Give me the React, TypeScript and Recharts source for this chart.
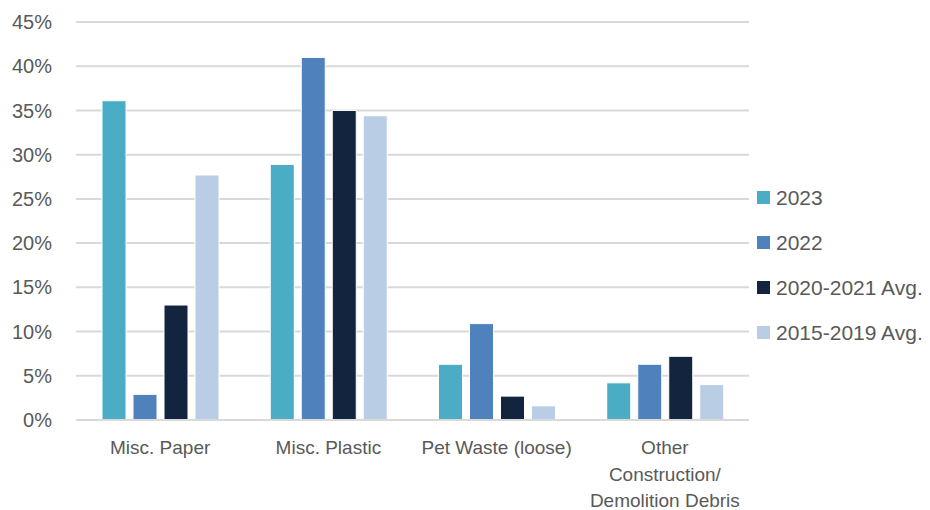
import { Bar, BarChart, CartesianGrid, Legend, XAxis, YAxis } from "recharts";

const categories = ["Misc. Paper", "Misc. Plastic", "Pet Waste (loose)", "Other Construction/ Demolition Debris"];
const categoryLines = [["Misc. Paper"], ["Misc. Plastic"], ["Pet Waste (loose)"], ["Other", "Construction/", "Demolition Debris"]];

const seriesNames = ["2023", "2022", "2020-2021 Avg.", "2015-2019 Avg."];
const y2023 = [36.1, 28.9, 6.3, 4.2];
const y2022 = [2.9, 41.0, 10.9, 6.3];
const avg2020_2021 = [13.0, 35.0, 2.7, 7.2];
const avg2015_2019 = [27.7, 34.4, 1.6, 4.0];

const yTicks = [0, 5, 10, 15, 20, 25, 30, 35, 40, 45];

const chartData = categories.map((name, i) => ({
  name,
  y2023: y2023[i],
  y2022: y2022[i],
  avg2020: avg2020_2021[i],
  avg2015: avg2015_2019[i],
}));

const textColor = "#595959";
const gridColor = "#d9d9d9";

const CategoryTick = (props: any) => {
  const { x, y, payload } = props;
  const idx = categories.indexOf(payload.value);
  const lines = idx >= 0 ? categoryLines[idx] : [String(payload.value)];
  return (
    <text x={x} y={y} textAnchor="middle" fill={textColor} fontSize={19}>
      {lines.map((line, i) => (
        <tspan key={i} x={x} dy={i === 0 ? 34 : 26.5}>
          {line}
        </tspan>
      ))}
    </text>
  );
};

// keep legend in series order (recharts sorts by value otherwise)
const renderLegend = (props: any) => {
  const items = [...(props.payload || [])].sort(
    (a: any, b: any) => seriesNames.indexOf(a.value) - seriesNames.indexOf(b.value)
  );
  return (
    <div>
      {items.map((entry: any) => (
        <div
          key={entry.value}
          style={{ display: "flex", alignItems: "center", height: 45, whiteSpace: "nowrap" }}
        >
          <span style={{ width: 13, height: 13, background: entry.color, marginRight: 6, flex: "none" }} />
          <span style={{ fontSize: 21, color: textColor }}>{entry.value}</span>
        </div>
      ))}
    </div>
  );
};

const App = () => {
  return (
    <div
      style={{
        position: "fixed",
        left: 0,
        top: 0,
        width: 930,
        height: 510,
        background: "#fff",
        fontFamily: "'Liberation Sans', Arial, sans-serif",
      }}
    >
      <BarChart
        width={930}
        height={510}
        data={chartData}
        margin={{ top: 22, right: 181, left: 0, bottom: 0 }}
        barCategoryGap={26}
        barGap={7}
      >
        <CartesianGrid vertical={false} stroke={gridColor} strokeWidth={2} />
        <XAxis
          dataKey="name"
          height={90}
          tickLine={false}
          tickSize={0}
          tickMargin={0}
          axisLine={{ stroke: gridColor, strokeWidth: 2 }}
          tick={<CategoryTick />}
          interval={0}
        />
        <YAxis
          width={76}
          domain={[0, 45]}
          ticks={yTicks}
          tickFormatter={(v: number) => `${v}%`}
          axisLine={false}
          tickLine={false}
          tickSize={0}
          tickMargin={24}
          tick={{ fontSize: 20, fill: textColor }}
        />
        <Legend
          layout="horizontal"
          verticalAlign="top"
          align="right"
          content={renderLegend}
          wrapperStyle={{ left: 757, top: 175, width: 173, height: 0, overflow: "visible" }}
        />
        <Bar dataKey="y2023" name={seriesNames[0]} fill="#4bacc6" stroke="#fff" strokeWidth={1} isAnimationActive={false} />
        <Bar dataKey="y2022" name={seriesNames[1]} fill="#4f81bd" stroke="#fff" strokeWidth={1} isAnimationActive={false} />
        <Bar dataKey="avg2020" name={seriesNames[2]} fill="#13243f" stroke="#fff" strokeWidth={1} isAnimationActive={false} />
        <Bar dataKey="avg2015" name={seriesNames[3]} fill="#b9cde5" stroke="#fff" strokeWidth={1} isAnimationActive={false} />
      </BarChart>
    </div>
  );
};

export default App;
